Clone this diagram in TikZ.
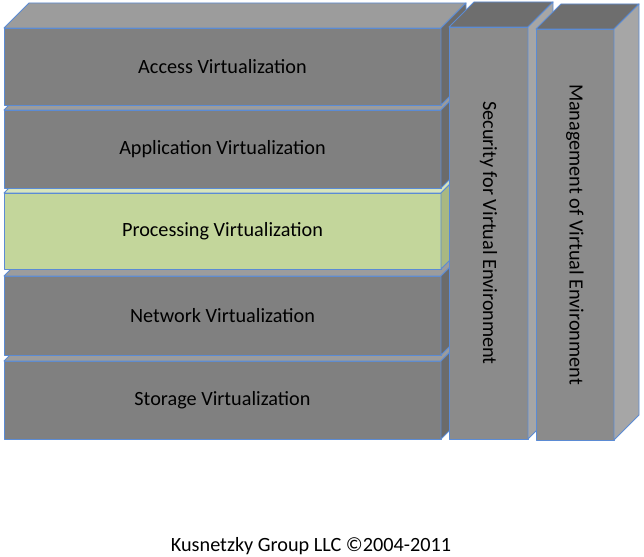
\documentclass[tikz,border=0pt]{standalone}
\usepackage{fontspec}
\setmainfont{Carlito}
\usetikzlibrary{calc}
\definecolor{edge}{HTML}{5B8BD4}
\definecolor{layfront}{HTML}{808080}
\definecolor{laytop}{HTML}{9C9C9C}
\definecolor{layside}{HTML}{6B6B6B}
\definecolor{grfront}{HTML}{C3D69B}
\definecolor{grtop}{HTML}{D7E4BD}
\definecolor{grside}{HTML}{A9B882}
\definecolor{colfront}{HTML}{8B8B8B}
\definecolor{coltop}{HTML}{6E6E6E}
\definecolor{colside}{HTML}{A6A6A6}
\tikzset{
  face/.style={draw=edge, line width=0.9bp, line join=round},
  frontface/.style={face, inner sep=0pt, outer sep=0pt},
  lbl/.style={font=\fontsize{20.3}{23}\selectfont, text=black, inner sep=0pt},
}
% #1 name, #2 x1, #3 y1, #4 x2, #5 y2, #6 front, #7 top, #8 side
\newcommand\mybox[8]{%
  \node[frontface, fill=#6, minimum width={(#4-#2)*1bp}, minimum height={(#5-#3)*1bp}] (#1) at ({(#2+#4)/2},{(#3+#5)/2}) {};
  \filldraw[face, fill=#7] (#1.north west) -- ++(25,-25) -- ($(#1.north east)+(25,-25)$) -- (#1.north east) -- cycle;
  \filldraw[face, fill=#8] (#1.north east) -- ++(25,-25) -- ($(#1.south east)+(25,-25)$) -- (#1.south east) -- cycle;
}
\begin{document}
\begin{tikzpicture}[x=1bp,y=-1bp]
\useasboundingbox[fill=white] (0,0) rectangle (644,557);
\mybox{sto}{4}{361}{441}{439}{layfront}{laytop}{layside}
\node[lbl] (stoT) at (sto.center) {Storage Virtualization};
\mybox{net}{4}{276}{441}{355}{layfront}{laytop}{layside}
\node[lbl] (netT) at (net.center) {Network Virtualization};
\mybox{pro}{4}{193}{441}{269}{grfront}{grtop}{grside}
\node[lbl] (proT) at (pro.center) {Processing Virtualization};
\mybox{app}{4}{110}{441}{188}{layfront}{laytop}{layside}
\node[lbl] (appT) at (app.center) {Application Virtualization};
\mybox{acc}{4}{28}{441}{105}{layfront}{laytop}{layside}
\node[lbl] (accT) at (acc.center) {Access Virtualization};
\mybox{sec}{449}{27}{528}{439}{colfront}{coltop}{colside}
\node[lbl, rotate=-90] (secT) at (sec.center) {Security for Virtual Environment};
\mybox{man}{536}{29}{614}{440}{colfront}{coltop}{colside}
\node[lbl, rotate=-90] (manT) at (man.center) {Management of Virtual Environment};
\node[lbl, anchor=base] (foot) at (311,551) {Kusnetzky Group LLC ©2004-2011};
\end{tikzpicture}
\end{document}
